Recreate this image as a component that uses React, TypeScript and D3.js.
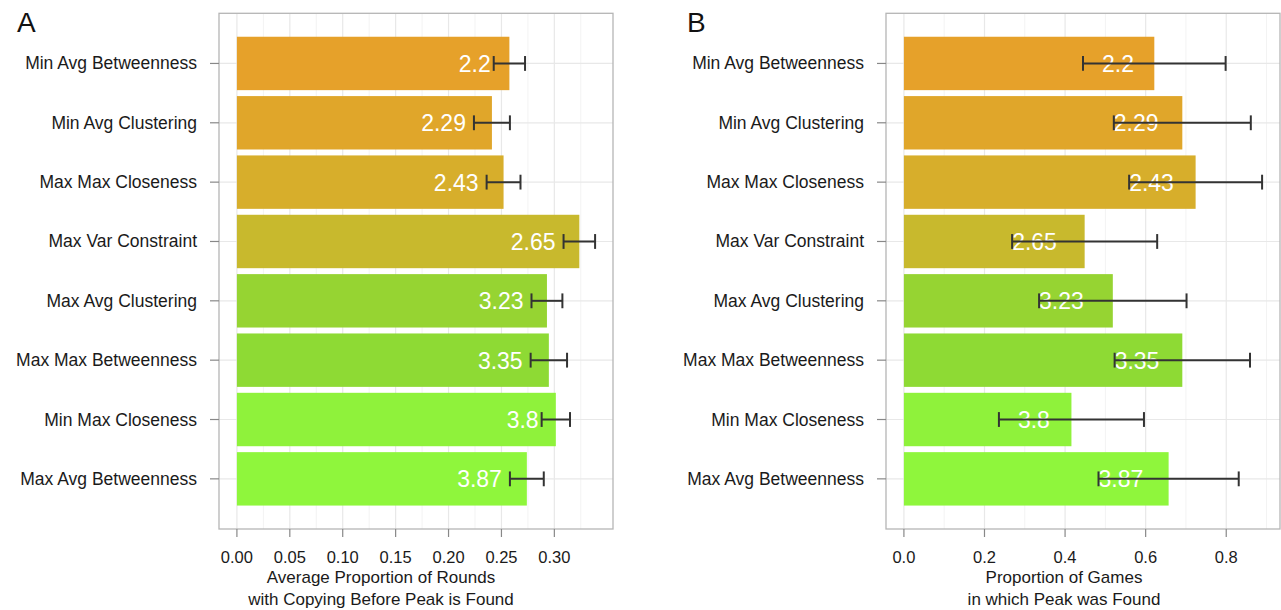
import React from "react";
import * as d3 from "d3";

const categories = [
  "Min Avg Betweenness",
  "Min Avg Clustering",
  "Max Max Closeness",
  "Max Var Constraint",
  "Max Avg Clustering",
  "Max Max Betweenness",
  "Min Max Closeness",
  "Max Avg Betweenness",
];
const scoreValues = [2.2, 2.29, 2.43, 2.65, 3.23, 3.35, 3.8, 3.87];
const scoreLabels = ["2.2", "2.29", "2.43", "2.65", "3.23", "3.35", "3.8", "3.87"];

const copyMeans = [0.2575, 0.241, 0.252, 0.3236, 0.293, 0.2948, 0.3014, 0.274];
const copySE = [0.0148, 0.017, 0.016, 0.0149, 0.0146, 0.0172, 0.0134, 0.016];

const peakMeans = [0.6215, 0.691, 0.724, 0.4486, 0.5185, 0.691, 0.4158, 0.657];
const peakSE = [0.177, 0.17, 0.165, 0.18, 0.183, 0.168, 0.18, 0.174];

const ticksA = [0, 0.05, 0.1, 0.15, 0.2, 0.25, 0.3];
const ticksB = [0, 0.2, 0.4, 0.6, 0.8];

const titleA = ["Average Proportion of Rounds", "with Copying Before Peak is Found"];
const titleB = ["Proportion of Games", "in which Peak was Found"];

const FONT = "'Liberation Sans', Arial, Helvetica, sans-serif";
const TOP = 13.3;
const BOTTOM = 529;

const colour = d3
  .scaleLinear<string>()
  .domain([2.2, 3.3, 3.87])
  .range(["#E6A12A", "#8ED733", "#8FF63C"])
  .interpolate(d3.interpolateLab);

type PanelProps = {
  left: number;
  right: number;
  means: number[];
  se: number[];
  ticks: number[];
  fmt: string;
  title: string[];
  titleX: number;
  letter: string;
  letterX: number;
  labelMode: "A" | "B";
};

function Panel(p: PanelProps) {
  const maxUp = d3.max(p.means.map((m, i) => m + p.se[i])) as number;
  const pad = maxUp * 0.05;
  const x = d3.scaleLinear().domain([-pad, maxUp + pad]).range([p.left, p.right]);
  const y = d3
    .scaleBand<string>()
    .domain(categories)
    .range([TOP, BOTTOM])
    .paddingInner(0.1)
    .paddingOuter(0.395);
  const step = y.step();
  const bw = y.bandwidth();
  const [d0, d1] = x.domain();
  const dt = p.ticks[1] - p.ticks[0];
  const minor: number[] = [];
  for (let t = p.ticks[0] - dt / 2; t <= d1; t += dt) {
    if (t >= d0) minor.push(t);
  }
  const f = d3.format(p.fmt);
  return (
    <g>
      <text x={p.letterX} y={32} fontSize={28} fontFamily={FONT} fill="#111">
        {p.letter}
      </text>
      {/* grid */}
      {minor.map((t, i) => (
        <line key={"mn" + i} x1={x(t)} x2={x(t)} y1={TOP} y2={BOTTOM} stroke="#f3f3f3" strokeWidth={1} />
      ))}
      {p.ticks.map((t, i) => (
        <line key={"mj" + i} x1={x(t)} x2={x(t)} y1={TOP} y2={BOTTOM} stroke="#e8e8e8" strokeWidth={1.2} />
      ))}
      {categories.map((c) => (
        <line
          key={"hg" + c}
          x1={p.left}
          x2={p.right}
          y1={(y(c) as number) + bw / 2}
          y2={(y(c) as number) + bw / 2}
          stroke="#e8e8e8"
          strokeWidth={1.2}
        />
      ))}
      {/* bars */}
      {categories.map((c, i) => (
        <rect
          key={"b" + c}
          x={x(0)}
          y={y(c)}
          width={x(p.means[i]) - x(0)}
          height={bw}
          fill={colour(scoreValues[i])}
        />
      ))}
      {/* labels */}
      {categories.map((c, i) => {
        const lo = x(p.means[i] - p.se[i]);
        const short = scoreLabels[i].length < 4;
        const lx = p.labelMode === "A" ? lo - (short ? 3 : 8) : lo + (short ? 19 : 0);
        return (
          <text
            key={"l" + c}
            x={lx}
            y={(y(c) as number) + bw / 2 + 8.5}
            fontSize={23}
            fontFamily={FONT}
            fill="#ffffff"
            textAnchor={p.labelMode === "A" ? "end" : "start"}
          >
            {scoreLabels[i]}
          </text>
        );
      })}
      {/* error bars */}
      {categories.map((c, i) => {
        const cy = (y(c) as number) + bw / 2;
        const x1 = x(p.means[i] - p.se[i]);
        const x2 = x(p.means[i] + p.se[i]);
        const h = step * 0.125;
        return (
          <g key={"e" + c} stroke="#333" strokeWidth={2}>
            <line x1={x1} x2={x2} y1={cy} y2={cy} />
            <line x1={x1} x2={x1} y1={cy - h} y2={cy + h} />
            <line x1={x2} x2={x2} y1={cy - h} y2={cy + h} />
          </g>
        );
      })}
      {/* border */}
      <rect x={p.left} y={TOP} width={p.right - p.left} height={BOTTOM - TOP} fill="none" stroke="#b5b5b5" strokeWidth={1.3} />
      {/* y axis */}
      {categories.map((c) => {
        const cy = (y(c) as number) + bw / 2;
        return (
          <g key={"yt" + c}>
            <line x1={p.left - 9} x2={p.left} y1={cy} y2={cy} stroke="#888" strokeWidth={1.2} />
            <text x={p.left - 22} y={cy + 6} fontSize={17.5} fontFamily={FONT} fill="#1a1a1a" textAnchor="end">
              {c}
            </text>
          </g>
        );
      })}
      {/* x axis */}
      {p.ticks.map((t, i) => (
        <g key={"xt" + i}>
          <line x1={x(t)} x2={x(t)} y1={BOTTOM} y2={BOTTOM + 8} stroke="#888" strokeWidth={1.2} />
          <text x={x(t)} y={563} fontSize={16.5} fontFamily={FONT} fill="#1a1a1a" textAnchor="middle">
            {f(t)}
          </text>
        </g>
      ))}
      {p.title.map((s, i) => (
        <text key={"tt" + i} x={p.titleX} y={583 + i * 22} fontSize={17} fontFamily={FONT} fill="#1a1a1a" textAnchor="middle">
          {s}
        </text>
      ))}
    </g>
  );
}

export default function App() {
  return (
    <svg
      width={1281}
      height={610}
      style={{ position: "absolute", left: 0, top: 0, background: "#fff" }}
    >
      <rect width={1281} height={610} fill="#fff" />
      <Panel
        left={219}
        right={613}
        means={copyMeans}
        se={copySE}
        ticks={ticksA}
        fmt=".2f"
        title={titleA}
        titleX={381}
        letter="A"
        letterX={17}
        labelMode="A"
      />
      <Panel
        left={886}
        right={1280}
        means={peakMeans}
        se={peakSE}
        ticks={ticksB}
        fmt=".1f"
        title={titleB}
        titleX={1064}
        letter="B"
        letterX={687}
        labelMode="B"
      />
    </svg>
  );
}
